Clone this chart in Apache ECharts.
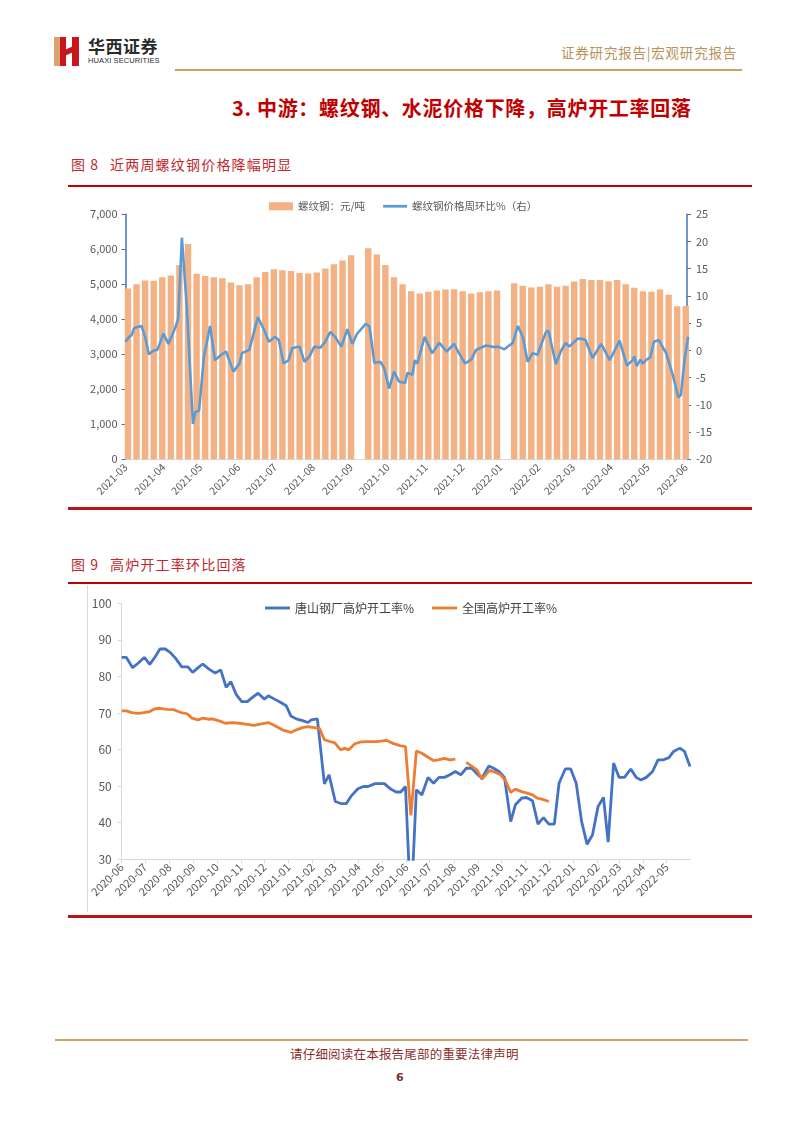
<!DOCTYPE html>
<html><head><meta charset="utf-8">
<script src="https://cdn.jsdelivr.net/npm/echarts@6/dist/echarts.min.js"></script>
<style>
body{margin:0;background:#fff;}
#page{position:relative;width:802px;height:1133px;overflow:hidden;background:#fff;font-family:"Noto Sans CJK SC","Noto Sans",sans-serif;}
.abs{position:absolute;white-space:nowrap;}
</style></head><body><div id="page">
<!-- logo -->
<div class="abs" style="left:54px;top:37px;width:6px;height:29px;background:#d7a36e"></div>
<div class="abs" style="left:60px;top:37px;width:6px;height:29px;background:#c8161d"></div>
<div class="abs" style="left:64px;top:48px;width:10px;height:6px;background:#c8161d;transform:skewY(-25deg)"></div>
<div class="abs" style="left:72px;top:37px;width:7px;height:29px;background:#c8161d"></div>
<div class="abs" style="left:88px;top:36px;font-size:17px;line-height:20px;font-weight:bold;color:#2b2b2b;letter-spacing:0.5px">华西证券</div>
<div class="abs" style="left:88px;top:57px;font-size:7.5px;line-height:8px;color:#2b2b2b;font-family:'Liberation Sans',sans-serif;letter-spacing:0.1px">HUAXI SECURITIES</div>
<div class="abs" style="left:561px;top:44px;font-size:13.5px;line-height:16px;color:#b8925a;letter-spacing:0.8px">证券研究报告|宏观研究报告</div>
<div class="abs" style="left:175px;top:69px;width:567px;height:2px;background:#c9a46a"></div>
<!-- title -->
<div class="abs" style="left:232px;top:96px;font-size:20px;line-height:24px;font-weight:bold;color:#c00000;letter-spacing:0.7px">3. 中游：螺纹钢、水泥价格下降，高炉开工率回落</div>
<!-- figure 8 caption -->
<div class="abs" style="left:71px;top:156px;font-size:14px;line-height:16px;color:#c0282d;letter-spacing:1px">图 8</div>
<div class="abs" style="left:110px;top:156px;font-size:14px;line-height:16px;color:#c0282d;letter-spacing:1.2px">近两周螺纹钢价格降幅明显</div>
<div class="abs" style="left:68px;top:185px;width:684px;height:1.5px;background:#c00000"></div>
<div id="c1" class="abs" style="left:60px;top:190px;width:700px;height:315px"></div>
<div class="abs" style="left:68px;top:507px;width:684px;height:3px;background:#b8141c"></div>
<!-- figure 9 caption -->
<div class="abs" style="left:71px;top:556px;font-size:14px;line-height:16px;color:#c0282d;letter-spacing:1px">图 9</div>
<div class="abs" style="left:110px;top:556px;font-size:14px;line-height:16px;color:#c0282d;letter-spacing:1.2px">高炉开工率环比回落</div>
<div class="abs" style="left:68px;top:582px;width:684px;height:1.5px;background:#c00000"></div>
<div class="abs" style="left:87px;top:585px;width:1px;height:327px;background:#d9d9d9"></div>
<div id="c2" class="abs" style="left:60px;top:588px;width:700px;height:325px"></div>
<div class="abs" style="left:68px;top:915px;width:684px;height:3px;background:#b8141c"></div>
<!-- footer -->
<div class="abs" style="left:55px;top:1039px;width:693px;height:2px;background:#c9a46a"></div>
<div class="abs" style="left:290px;top:1046px;font-size:12.5px;line-height:15px;color:#8b2c2c;letter-spacing:0.2px">请仔细阅读在本报告尾部的重要法律声明</div>
<div class="abs" style="left:396px;top:1071px;font-size:11px;line-height:13px;font-weight:bold;color:#7f2b2b;font-family:'DejaVu Sans',sans-serif">6</div>
</div>
<script>
// ---------- Figure 8 data ----------
const rebarBaseDate = '2021-03-01';          // day 0 of the day offsets
const rebarMonths = ['2021-03','2021-04','2021-05','2021-06','2021-07','2021-08','2021-09','2021-10','2021-11','2021-12','2022-01','2022-02','2022-03','2022-04','2022-05','2022-06'];
const rebarFirstWeekDay = 2;                  // first weekly bar (Wed 2021-03-03)
const rebarPrice = [4880,5000,5110,5100,5200,5250,5550,6150,5300,5240,5200,5170,5050,4970,5000,5200,5350,5430,5400,5380,5320,5310,5340,5450,5570,5680,5830,null,6030,5850,5550,5200,5000,4800,4740,4790,4820,4850,4860,4800,4740,4770,4800,4820,null,5030,4960,4910,4930,5000,4930,4960,5080,5150,5120,5120,5090,5120,5000,4900,4800,4790,4850,4700,4370,4380];
const rebarWowDay = [0,3,5,7,13,16,19,23,26,31,35,41,43,46,50,55,57,60,64,69,73,78,82,88,93,95,101,108,113,117,122,125,129,133,136,142,146,150,154,159,163,167,171,176,181,185,189,196,199,203,208,211,215,219,223,226,228,230,234,236,238,240,244,250,256,262,268,272,277,282,286,294,301,304,309,316,320,324,328,332,336,343,345,351,355,359,362,369,375,381,388,395,403,406,409,414,415,417,420,422,425,428,431,435,441,446,451,453,456,459];
const rebarWow = [1.6,2.5,2.8,4.1,4.5,2.5,-0.7,0.0,0.1,3.1,1.2,4.4,5.9,20.7,8.0,-13.5,-11.3,-11.1,-1.1,4.5,-1.8,-0.8,-0.2,-3.9,-2.4,-0.5,0.1,6.1,3.8,1.6,2.5,1.9,-2.4,-1.8,0.4,0.7,-2.1,-1.1,0.7,0.5,1.6,3.4,2.5,0.7,3.9,1.2,3.1,4.9,4.4,-2.3,-2.1,-3.3,-7.0,-3.9,-5.7,-5.9,-6.0,-4.1,-4.5,-1.8,-2.4,-0.8,2.5,-0.5,1.4,-0.2,1.2,-0.5,-2.4,-1.7,0.1,0.9,0.6,0.7,0.2,1.4,4.5,2.5,-2.1,-0.5,-0.8,3.4,3.6,-2.5,-0.2,1.4,0.7,2.2,2.0,-1.4,1.2,-1.8,1.8,-0.5,-2.8,-1.7,-1.1,-2.9,-1.7,-2.4,-1.7,-1.3,1.6,1.9,-0.5,-4.2,-8.6,-8.2,-1.7,2.5];
const rebarLeftTicks = [0,1000,2000,3000,4000,5000,6000,7000];
const rebarRightTicks = [-20,-15,-10,-5,0,5,10,15,20,25];

// ---------- Figure 9 data ----------
const bfBaseDate = '2020-06-01';
const bfMonths = ['2020-06','2020-07','2020-08','2020-09','2020-10','2020-11','2020-12','2021-01','2021-02','2021-03','2021-04','2021-05','2021-06','2021-07','2021-08','2021-09','2021-10','2021-11','2021-12','2022-01','2022-02','2022-03','2022-04','2022-05'];
const tangshanDay = [0,6,14,21,29,36,43,49,56,62,69,77,85,91,98,104,112,120,127,134,140,147,154,161,169,175,183,188,196,203,211,217,224,232,239,243,251,260,266,274,282,288,294,303,310,316,325,331,337,345,352,358,364,371,378,385,393,400,407,414,421,428,435,442,449,457,462,471,477,484,491,499,505,513,519,527,534,541,548,555,561,569,576,583,590,597,604,611,618,624,631,638,645,653,660,666,673,681,688,695,702,708,716,722,729];
const tangshanRate = [85.2,85.2,82.4,83.6,85.2,83.3,85.4,87.5,87.5,86.6,85.0,82.6,82.6,81.1,82.4,83.4,82.0,80.9,81.8,77.0,78.6,75.0,73.1,73.1,74.5,75.4,73.8,74.7,73.8,73.0,72.0,69.2,68.4,67.9,67.4,68.1,68.4,50.6,53.1,45.8,45.2,45.2,47.2,49.3,49.9,49.9,50.7,50.7,50.7,49.2,48.4,48.4,49.9,16.0,49.0,47.6,52.4,50.8,52.4,52.4,53.1,54.0,53.1,54.9,54.9,53.1,52.2,55.5,54.9,54.0,52.4,40.3,44.9,46.7,46.9,46.0,39.6,41.4,39.6,39.6,50.8,54.7,54.7,50.8,40.3,34.1,36.7,44.4,46.9,34.7,56.3,52.4,52.4,54.7,52.4,51.7,52.4,54.0,57.2,57.2,57.8,59.5,60.4,59.5,55.4];
const nationalDay = [0,6,13,21,28,36,42,49,58,67,75,84,90,98,104,111,116,127,133,142,151,161,170,176,188,196,206,217,224,232,239,247,254,260,267,273,281,286,291,299,307,316,327,340,348,357,364,371,378,385,393,400,406,414,421,428,435,442,449,456,462,467,472,479,486,492,499,505,513,520,527,533,540,548];
const nationalRate = [70.6,70.6,70.1,69.9,70.1,70.4,71.1,71.3,71.0,70.9,70.2,69.8,68.6,68.1,68.6,68.3,68.4,67.7,67.2,67.4,67.2,66.9,66.6,66.9,67.4,66.6,65.4,64.7,65.4,66.0,66.3,66.0,65.7,62.7,62.2,61.9,59.9,60.4,59.9,61.6,62.1,62.2,62.2,62.5,61.7,61.1,60.8,42.0,59.6,59.0,57.9,57.0,57.2,57.6,57.2,57.4,null,56.5,55.5,54.4,51.9,53.1,54.3,53.8,53.1,51.7,48.3,49.2,48.5,48.1,47.6,46.7,46.4,45.8];
const bfTicks = [30,40,50,60,70,80,90,100];

// ---------- helpers ----------
function parseYMD(s){const p=s.split('-').map(Number);return [p[0],p[1]||1,p[2]||1];}
function daysBetween(base,s){const a=parseYMD(base),b=parseYMD(s);return Math.round((Date.UTC(b[0],b[1]-1,b[2])-Date.UTC(a[0],a[1]-1,a[2]))/86400000);}
function fmtThousands(v){return String(v).replace(/\B(?=(\d{3})+(?!\d))/g,',');}
const FONT='"Noto Sans CJK SC","Noto Sans",sans-serif';
const LINE_ICON='path://M0,0H26V3H0Z';
function monthAxis(base,months,maxDay,opt){
  const days=months.map(m=>daysBetween(base,m));
  return {type:'value',min:0,max:maxDay,
    axisLine:{show:true,lineStyle:{color:'#d9d9d9',width:1}},
    axisTick:{show:opt.tick,length:4,customValues:days,lineStyle:{color:'#d9d9d9'}},
    splitLine:{show:false},
    axisLabel:{customValues:days,formatter:function(v){const i=days.indexOf(Math.round(v));return i>=0?months[i]:'';},
      rotate:45,fontSize:opt.fontSize,color:'#595959',margin:6,hideOverlap:false,showMinLabel:true,showMaxLabel:true}};
}

// ---------- chart 1 ----------
const c1 = echarts.init(document.getElementById('c1'));
const barData = rebarPrice.map((v,i)=>[rebarFirstWeekDay+7*i, v===null?'-':v]);
const wowData = rebarWowDay.map((d,i)=>[d, rebarWow[i]]);
c1.setOption({
  animation:false,
  textStyle:{fontFamily:FONT},
  legend:{left:204,top:6,itemGap:18,itemWidth:24,itemHeight:8,symbolKeepAspect:true,
    textStyle:{color:'#595959',fontSize:10.5,fontFamily:FONT},
    data:[{name:'螺纹钢：元/吨',icon:'rect'},{name:'螺纹钢价格周环比%（右）',icon:LINE_ICON}]},
  grid:{left:65.5,right:73,top:24.3,height:245,containLabel:false},
  xAxis:monthAxis(rebarBaseDate,rebarMonths,458,{tick:false,fontSize:10.5}),
  yAxis:[
    {type:'value',min:rebarLeftTicks[0],max:rebarLeftTicks[rebarLeftTicks.length-1],interval:1000,
     axisLine:{show:true,lineStyle:{color:'#4472c4',width:1.5}},
     axisTick:{show:true,length:4,lineStyle:{color:'#4472c4'}},
     splitLine:{show:false},
     axisLabel:{formatter:fmtThousands,fontSize:11,color:'#595959',margin:8}},
    {type:'value',min:rebarRightTicks[0],max:rebarRightTicks[rebarRightTicks.length-1],interval:5,
     axisLine:{show:true,lineStyle:{color:'#4472c4',width:1.5}},
     axisTick:{show:true,length:4,lineStyle:{color:'#4472c4'}},
     splitLine:{show:false},
     axisLabel:{fontSize:11,color:'#595959',margin:9}}
  ],
  series:[
    {name:'螺纹钢：元/吨',type:'bar',yAxisIndex:0,barWidth:6.4,data:barData,
     itemStyle:{color:'#f4b183'}},
    {name:'螺纹钢价格周环比%（右）',type:'line',yAxisIndex:1,data:wowData,symbol:'none',
     color:'#5b9bd5',lineStyle:{color:'#5b9bd5',width:2.6}}
  ]
});

// ---------- chart 2 ----------
const c2 = echarts.init(document.getElementById('c2'));
const tsData = tangshanDay.map((d,i)=>[d, tangshanRate[i]]);
const cnData = nationalDay.map((d,i)=>[d, nationalRate[i]===null?'-':nationalRate[i]]);
c2.setOption({
  animation:false,
  textStyle:{fontFamily:FONT},
  legend:{left:200,top:9,itemGap:18,itemWidth:25,itemHeight:12,symbolKeepAspect:true,icon:LINE_ICON,
    textStyle:{color:'#404040',fontSize:12,fontFamily:FONT},
    data:['唐山钢厂高炉开工率%','全国高炉开工率%']},
  grid:{left:61.7,right:70,top:15.3,height:256,containLabel:false},
  xAxis:monthAxis(bfBaseDate,bfMonths,729,{tick:true,fontSize:11}),
  yAxis:{type:'value',min:bfTicks[0],max:bfTicks[bfTicks.length-1],interval:10,
    axisLine:{show:true,lineStyle:{color:'#d9d9d9',width:1}},
    axisTick:{show:true,length:4,lineStyle:{color:'#d9d9d9'}},
    splitLine:{show:false},
    axisLabel:{fontSize:12,color:'#595959',margin:10}},
  series:[
    {name:'唐山钢厂高炉开工率%',type:'line',data:tsData,symbol:'none',clip:true,
     color:'#4472c4',lineStyle:{color:'#4472c4',width:2.8}},
    {name:'全国高炉开工率%',type:'line',data:cnData,symbol:'none',clip:true,connectNulls:false,
     color:'#ed7d31',lineStyle:{color:'#ed7d31',width:2.8}}
  ]
});
</script>
</body></html>
